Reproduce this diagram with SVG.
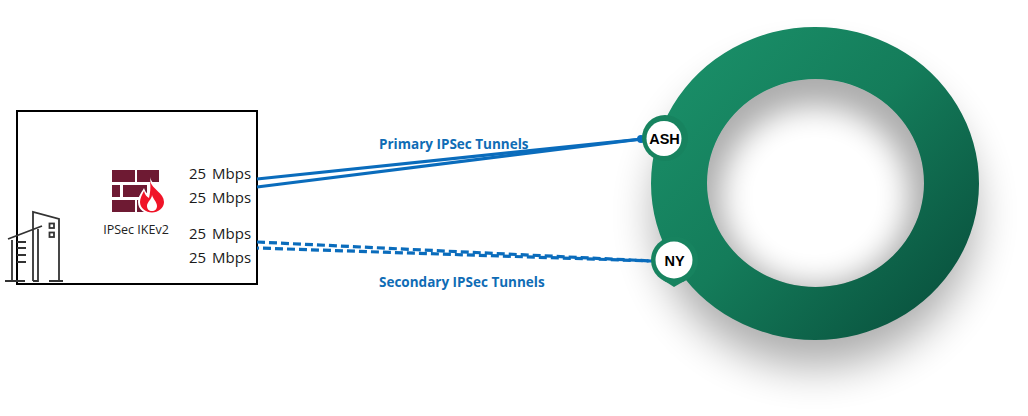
<svg xmlns="http://www.w3.org/2000/svg" width="1028" height="416" viewBox="0 0 1028 416">
<defs>
<linearGradient id="ringG" x1="0.15" y1="0.15" x2="0.9" y2="0.85"><stop offset="0" stop-color="#198c66"/><stop offset="0.45" stop-color="#147c5a"/><stop offset="1" stop-color="#0a5540"/></linearGradient>
<filter id="sh" x="-30%" y="-30%" width="160%" height="170%"><feGaussianBlur stdDeviation="22"/></filter>
<filter id="sh2" x="-30%" y="-30%" width="160%" height="160%"><feGaussianBlur stdDeviation="15"/></filter>
<clipPath id="hole"><ellipse cx="815.500" cy="183" rx="108.500" ry="104"/></clipPath>
</defs>
<style>
.t{font-family:"Open Sans","Liberation Sans",Arial,sans-serif}
.mb{font-size:15px;fill:#1a1a1a;word-spacing:2px}
.lbl{font-size:13.500px;font-weight:700;fill:#0f6cb5}
.pin{font-family:"Liberation Sans",Arial,sans-serif;font-size:14.500px;font-weight:700;fill:#000;text-anchor:middle}
.solid{stroke:#0a6cbc;stroke-width:3.200;fill:none}
.dash{stroke:#0a6cbc;stroke-width:3.200;fill:none;stroke-dasharray:8 4}
.bld{stroke:#333;stroke-width:1.800;fill:none}
.brick{fill:#6e1a33}
.halo{fill:#17835f}
</style>
<g id="ring">
<ellipse cx="815" cy="214" rx="160" ry="153" fill="#000" opacity="0.32" filter="url(#sh)"/>
<ellipse cx="815.500" cy="183" rx="108.500" ry="104" fill="#fff"/>
<g clip-path="url(#hole)"><path fill-rule="evenodd" fill="#000" opacity="0.32" filter="url(#sh2)" d="M660 30H970V340H660ZM815 106a94 90 0 1 0 .01 0Z"/></g>
<path fill-rule="evenodd" fill="url(#ringG)" d="M815 27a164 156.500 0 1 0 .01 0ZM815.500 79a108.500 104 0 1 1 -.01 0Z"/>
</g>
<g id="site">
<rect x="17" y="111" width="240" height="173" fill="#fff" stroke="#000" stroke-width="2"/>
</g>
<g id="building" class="bld">
<path d="M5 281H25M12 281V240M8 239L42 226M26 242H17M26 248H17M26 255H17M26 262H17M33 281V212L59 219V281M33 281H38V229M49 281H63"/>
<rect x="49.500" y="223.500" width="4.500" height="4.500"/><rect x="49.500" y="232.500" width="4.500" height="4.500"/>
</g>
<g id="firewall">
<rect class="brick" x="112" y="170" width="23" height="12"/><rect class="brick" x="137" y="170" width="22" height="12"/>
<rect class="brick" x="112" y="185" width="8" height="12"/><rect class="brick" x="123" y="185" width="24" height="12"/>
<rect class="brick" x="112" y="200" width="23" height="12"/><rect class="brick" x="137" y="200" width="10" height="12"/>
<path d="M150 177C152 186 166 191 166 202C166 210 159 214 152 214C145 214 138 210 138 202C138 196 142 192 144 188C145 191 146 193 148 194C150 190 151 185 150 177Z" fill="#fff"/>
<path d="M150 181C152 189 164 193 164 202C164 208 158 212.500 152 212.500C146 212.500 140 208 140 202C140 198 142 195 144 191C145 195 147 197 149 198C150 193 151 188 150 181ZM152 195C152 199 147 202 147 206C147 209 149 211 152 211C155 211 157 209 157 206C157 202 153 199 152 195Z" fill="#f01428" fill-rule="evenodd"/>
<text class="t" x="136" y="234" font-size="12.500" fill="#222" text-anchor="middle">IPSec IKEv2</text>
</g>
<g id="rates" class="t">
<text class="mb" x="189" y="179">25 Mbps</text>
<text class="mb" x="189" y="203">25 Mbps</text>
<text class="mb" x="189" y="239">25 Mbps</text>
<text class="mb" x="189" y="263">25 Mbps</text>
</g>
<g id="connectors">
<line class="solid" x1="257" y1="179" x2="642" y2="139"/>
<line class="solid" x1="257" y1="187" x2="642" y2="139"/>
<circle cx="641" cy="139" r="4" fill="#0a6cbc"/>
<line class="dash" x1="257" y1="242" x2="652" y2="261"/>
<line class="dash" stroke-dashoffset="6" x1="257" y1="248" x2="652" y2="261"/>
</g>
<g id="labels" class="t">
<text class="lbl" x="379" y="149">Primary IPSec Tunnels</text>
<text class="lbl" x="379" y="286.500">Secondary IPSec Tunnels</text>
</g>
<g id="ash">
<circle class="halo" cx="665" cy="138" r="23"/>
<circle cx="664" cy="138.500" r="17.500" fill="#fff"/>
<text class="pin" x="664.500" y="144">ASH</text>
</g>
<g id="ny">
<circle class="halo" cx="674.500" cy="260" r="23.500"/>
<path class="halo" d="M663 280L674 287L686 280Z"/>
<circle cx="674" cy="260" r="18.500" fill="#fff"/>
<text class="pin" x="674.500" y="266">NY</text>
</g>
</svg>
